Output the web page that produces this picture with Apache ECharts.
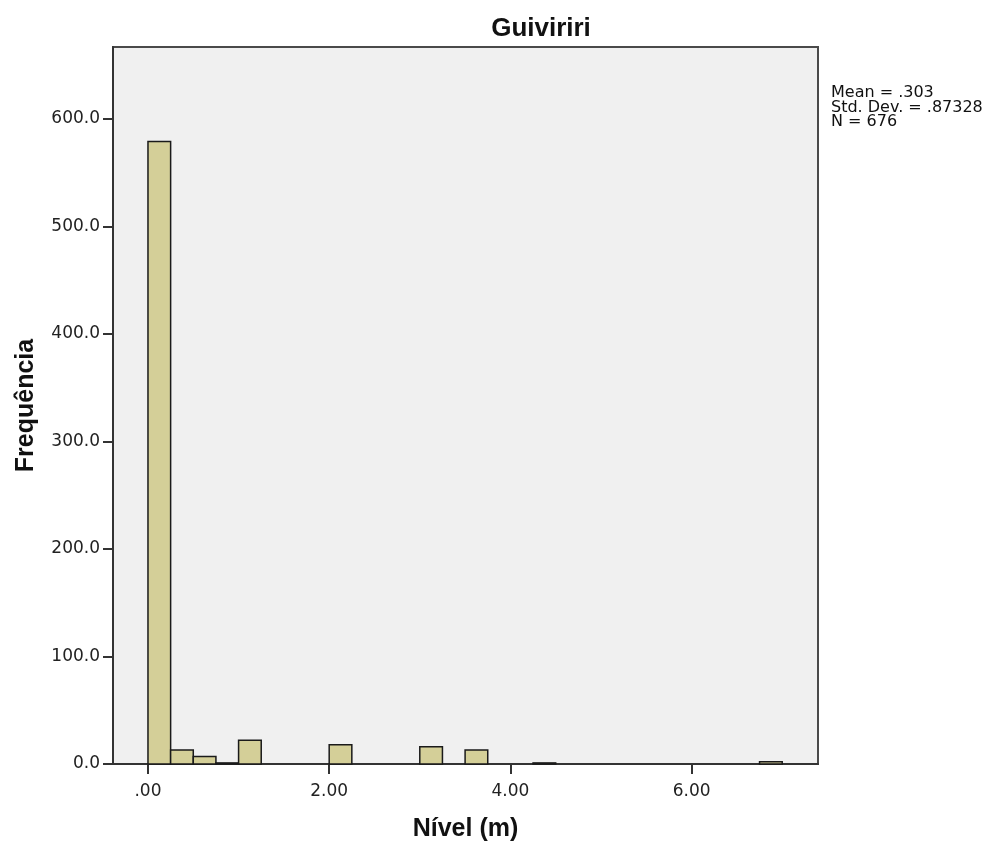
<!DOCTYPE html>
<html>
<head>
<meta charset="utf-8">
<title>Guiviriri</title>
<script src="https://cdn.jsdelivr.net/npm/echarts@6/dist/echarts.min.js"></script>
<style>
    html, body { margin: 0; padding: 0; background: #fff; }
    #chart { width: 992px; height: 841px; }
</style>
</head>
<body>
<div id="chart"></div>
<script>
// histogram bins (width 0.25 m) that have data
const binStart = [0, 0.25, 0.5, 0.75, 1.0, 2.0, 3.0, 3.5, 4.25, 6.75];
const binWidth = 0.25;
const counts = [579, 13, 7, 1, 22, 18, 16, 13, 1, 2];
const xTicks = [0, 2, 4, 6];
const yTicks = [0, 100, 200, 300, 400, 500, 600];
const statsLines = ['Mean = .303', 'Std. Dev. = .87328', 'N = 676'];

const chart = echarts.init(document.getElementById('chart'));

const barData = binStart.map((s, i) => [s, s + binWidth, counts[i]]);

const tickFont = 'DejaVu Sans, sans-serif';
const boldFont = 'Liberation Sans, Arial, sans-serif';

const option = {
    animation: false,
    title: {
        text: 'Guiviriri',
        left: 536,
        top: 11,
        textAlign: 'center',
        textStyle: { fontFamily: boldFont, fontSize: 26, fontWeight: 'bold', color: '#111' }
    },
    graphic: [
        {
            type: 'text',
            left: 831,
            top: 85,
            style: {
                text: statsLines.join('\n'),
                font: '16px DejaVu Sans, sans-serif',
                lineHeight: 14.5,
                fill: '#111'
            }
        }
    ],
    grid: {
        left: 113,
        top: 47,
        width: 705,
        height: 717,
        containLabel: false,
        outerBoundsMode: 'none',
        show: true,
        backgroundColor: '#f0f0f0',
        borderColor: '#4a4a4a',
        borderWidth: 2
    },
    xAxis: {
        type: 'value',
        min: -0.386,
        max: 7.395,
        name: 'Nível (m)',
        nameLocation: 'middle',
        nameGap: 53,
        nameTextStyle: { fontFamily: boldFont, fontSize: 25, fontWeight: 'bold', color: '#111' },
        splitLine: { show: false },
        axisLine: { show: true, onZero: false, lineStyle: { color: '#333', width: 2 } },
        axisTick: {
            show: true, length: 10, customValues: xTicks,
            lineStyle: { color: '#333', width: 2 }
        },
        axisLabel: {
            customValues: xTicks,
            fontFamily: tickFont,
            fontSize: 17,
            color: '#222',
            margin: 19,
            formatter: v => v.toFixed(2).replace(/^0/, '')
        }
    },
    yAxis: {
        type: 'value',
        min: 0,
        max: 667,
        name: 'Frequência',
        nameLocation: 'middle',
        nameGap: 74,
        nameTextStyle: { fontFamily: boldFont, fontSize: 25, fontWeight: 'bold', color: '#111' },
        splitLine: { show: false },
        axisLine: { show: true, onZero: false, lineStyle: { color: '#333', width: 2 } },
        axisTick: {
            show: true, length: 10, customValues: yTicks,
            lineStyle: { color: '#333', width: 2 }
        },
        axisLabel: {
            customValues: yTicks,
            fontFamily: tickFont,
            fontSize: 17,
            color: '#222',
            margin: 13,
            formatter: v => v.toFixed(1)
        }
    },
    series: [
        {
            type: 'custom',
            data: barData,
            encode: { x: [0, 1], y: 2 },
            renderItem: function (params, api) {
                const p0 = api.coord([api.value(0), api.value(2)]);
                const p1 = api.coord([api.value(1), 0]);
                return {
                    type: 'rect',
                    shape: { x: p0[0], y: p0[1], width: p1[0] - p0[0], height: p1[1] - p0[1] },
                    style: { fill: '#d4cf98', stroke: '#1a1a1a', lineWidth: 1.5 }
                };
            }
        }
    ]
};

chart.setOption(option);
</script>
</body>
</html>
